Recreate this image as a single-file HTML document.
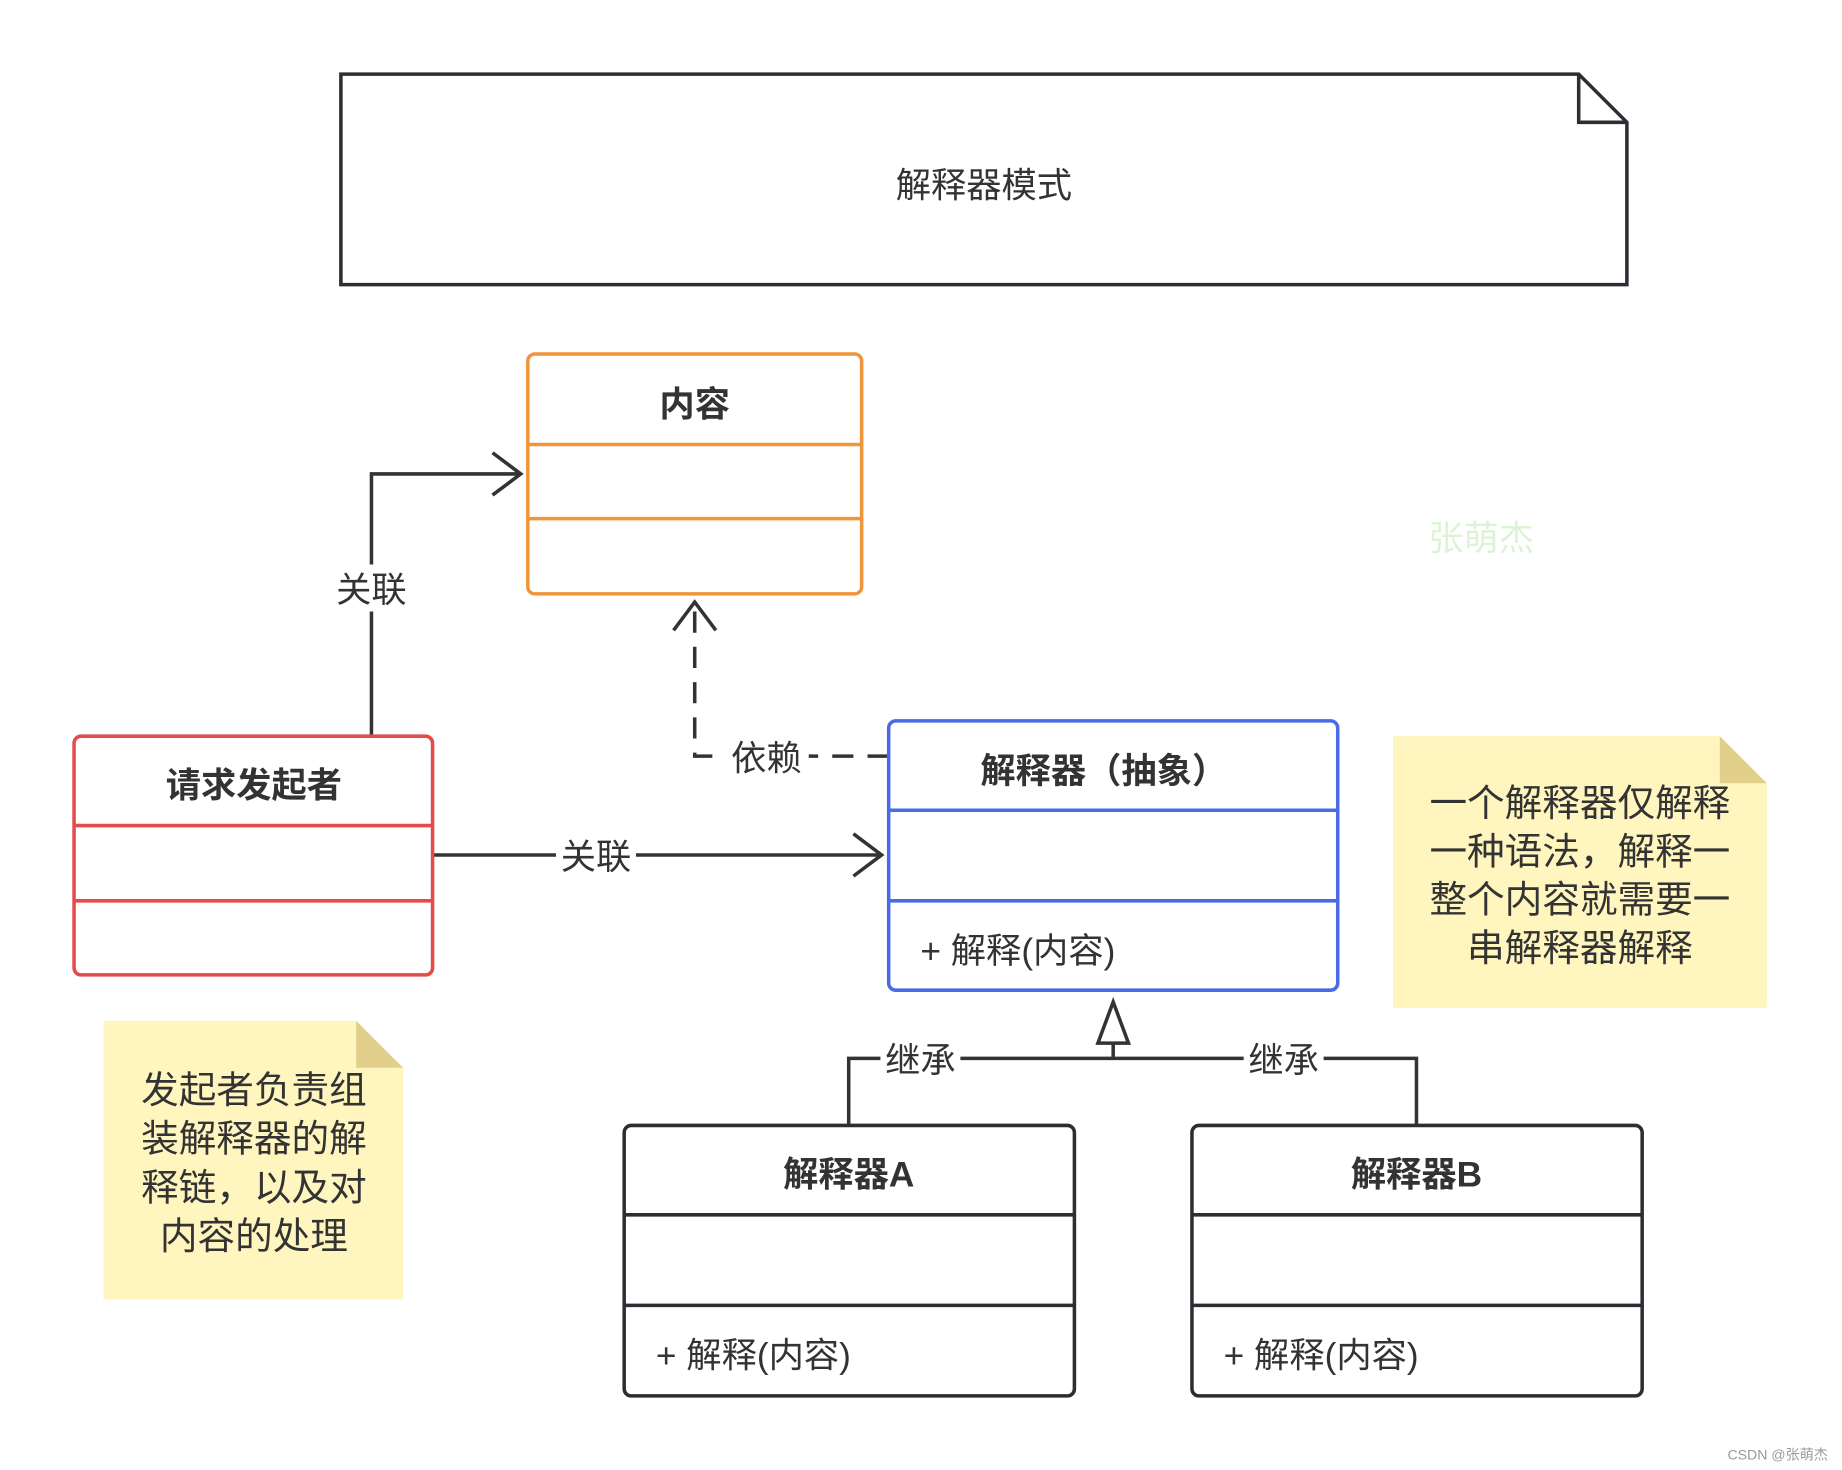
<!DOCTYPE html>
<html><head><meta charset="utf-8"><style>
html,body{margin:0;padding:0;background:#fff;}
svg{display:block;}
text{font-family:"Liberation Sans","Noto Sans CJK SC",sans-serif;fill:#333;}
</style></head><body>
<svg width="1842" height="1470" viewBox="0 0 1567 1250" preserveAspectRatio="none" xmlns="http://www.w3.org/2000/svg">
<rect width="1567" height="1250" fill="#fff"/>
<path d="M290 63 H1343 L1384 104 V242 H290 Z" fill="#fff" stroke="#2b2f33" stroke-width="3"/>
<path d="M1343 63 V104 H1384" fill="none" stroke="#2b2f33" stroke-width="3"/>
<text x="837" y="168" font-size="30" text-anchor="middle">解释器模式</text>

<g fill="none" stroke="#333" stroke-width="3">
<path d="M316 626 V403 H443"/>
<path d="M419 385 L443 403 L419 421"/>
<path d="M368 727 H750"/>
<path d="M726 709 L750 727 L726 745"/>
<path d="M756 643 H591 V514" stroke-dasharray="18,12"/>
<path d="M573 536 L591 512 L609 536"/>
<path d="M722 957 V900 H1205 V957"/>
<path d="M947 900 V887"/>
<path d="M934 887 L947 852 L960 887 Z" fill="#fff"/>
</g>
<g font-size="30" text-anchor="middle">
<rect x="282" y="480" width="68" height="40" fill="#fff"/>
<text x="316" y="512">关联</text>
<rect x="473" y="708" width="68" height="40" fill="#fff"/>
<text x="507" y="739">关联</text>
<rect x="616" y="624" width="72" height="40" fill="#fff"/>
<text x="652" y="655">依赖</text>
<rect x="749" y="881" width="68" height="40" fill="#fff"/>
<text x="783" y="912">继承</text>
<rect x="1058" y="881" width="68" height="40" fill="#fff"/>
<text x="1092" y="912">继承</text>
</g>

<rect x="449" y="301" width="284" height="204" rx="6" fill="#fff" stroke="#f0963a" stroke-width="3"/>
<path d="M449 378 H733 M449 441 H733" stroke="#f0963a" stroke-width="3"/>
<text x="591" y="354" font-size="30" font-weight="bold" text-anchor="middle">内容</text>

<rect x="63" y="626" width="305" height="203" rx="6" fill="#fff" stroke="#e54b4b" stroke-width="3"/>
<path d="M63 702 H368 M63 766 H368" stroke="#e54b4b" stroke-width="3"/>
<text x="216" y="678" font-size="30" font-weight="bold" text-anchor="middle">请求发起者</text>

<rect x="756" y="613" width="382" height="229" rx="6" fill="#fff" stroke="#4a6ae6" stroke-width="3"/>
<path d="M756 689 H1138 M756 766 H1138" stroke="#4a6ae6" stroke-width="3"/>
<text x="939" y="666" font-size="30" font-weight="bold" text-anchor="middle">解释器（抽象）</text>
<text x="783" y="819" font-size="30">+ 解释(内容)</text>

<rect x="531" y="957" width="383" height="230" rx="6" fill="#fff" stroke="#2b2f33" stroke-width="3"/>
<path d="M531 1033 H914 M531 1110 H914" stroke="#2b2f33" stroke-width="3"/>
<text x="722" y="1009" font-size="30" font-weight="bold" text-anchor="middle">解释器A</text>
<text x="558" y="1163" font-size="30">+ 解释(内容)</text>

<rect x="1014" y="957" width="383" height="230" rx="6" fill="#fff" stroke="#2b2f33" stroke-width="3"/>
<path d="M1014 1033 H1397 M1014 1110 H1397" stroke="#2b2f33" stroke-width="3"/>
<text x="1205" y="1009" font-size="30" font-weight="bold" text-anchor="middle">解释器B</text>
<text x="1041" y="1163" font-size="30">+ 解释(内容)</text>

<path d="M1185 626 H1463 L1503 666 V857 H1185 Z" fill="#fff5bf"/>
<path d="M1463 626 L1503 666 H1463 Z" fill="#e2d08a"/>
<g font-size="32" text-anchor="middle">
<text x="1344" y="694">一个解释器仅解释</text>
<text x="1344" y="735">一种语法，解释一</text>
<text x="1344" y="776">整个内容就需要一</text>
<text x="1344" y="817">串解释器解释</text>
</g>

<path d="M88 868 H303 L343 908 V1105 H88 Z" fill="#fff5bf"/>
<path d="M303 868 L343 908 H303 Z" fill="#e2d08a"/>
<g font-size="32" text-anchor="middle">
<text x="216" y="938">发起者负责组</text>
<text x="216" y="979">装解释器的解</text>
<text x="216" y="1021">释链，以及对</text>
<text x="216" y="1062">内容的处理</text>
</g>

<text x="1260" y="468" font-size="30" text-anchor="middle" style="fill:#dcf3d6">张萌杰</text>
<text x="1555" y="1241" font-size="12" text-anchor="end" style="fill:#999">CSDN @张萌杰</text>
</svg>
</body></html>
